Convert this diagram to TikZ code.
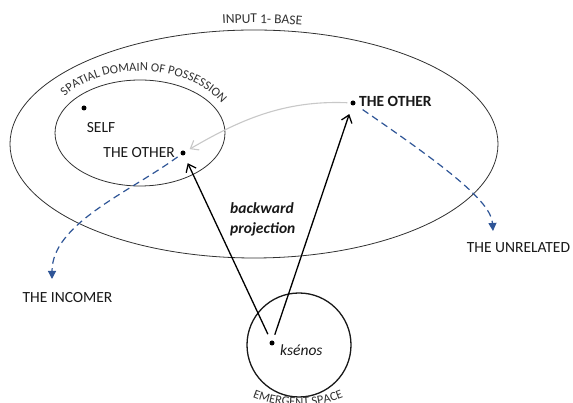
\documentclass[tikz,border=0pt]{standalone}
\usepackage{fontspec}
\setmainfont{Carlito}
\usetikzlibrary{arrows.meta,decorations.text}
\definecolor{blueline}{RGB}{47,85,151}
\definecolor{greyline}{RGB}{200,200,200}
\definecolor{inkc}{RGB}{25,25,25}
\definecolor{thinc}{RGB}{50,50,50}
\begin{document}
\begin{tikzpicture}[x=1pt,y=1pt,
  dotn/.style={circle,fill=black,inner sep=0pt,minimum size=5pt},
  lbl/.style={inner sep=0pt,font=\fontsize{15.5}{18}\selectfont,text=inkc},
  blackarr/.style={line width=1.3pt,-{Straight Barb[length=7pt,width=11pt,line width=1.3pt]}},
  greyarr/.style={draw=greyline,line width=1.1pt,-{Straight Barb[length=7pt,width=11pt]}},
  bluearr/.style={draw=blueline,line width=1.2pt,dash pattern=on 7pt off 4.5pt,-{Triangle[length=8pt,width=8pt]}},
  curvetext/.style={decorate,decoration={text along path,text align=center,#1}}
]
\clip (0,0) rectangle (573,403);
\fill[white] (0,0) rectangle (573,403);

% domains
\draw[draw=thinc,line width=0.8pt] (254,259) ellipse[x radius=244,y radius=114];
\draw[draw=thinc,line width=0.8pt] (140,270) ellipse[x radius=85,y radius=53];
\draw[draw=inkc,line width=1.3pt] (299,58) circle[radius=52];

% curved titles
\path[curvetext={text={|\color{thinc}\fontsize{13.5}{16}\selectfont|INPUT 1- BASE}}]
  (254,259) ++(108:250 and 121) arc[start angle=108,end angle=68,x radius=250,y radius=121];
\path[curvetext={text={|\color{thinc}\fontsize{12.5}{15}\selectfont|SPATIAL DOMAIN OF POSSESSION}}]
  (140,270) ++(150:93 and 62) arc[start angle=150,end angle=22,x radius=93,y radius=62];
\path[curvetext={text={|\color{thinc}\fontsize{12.5}{15}\selectfont|EMERGENT SPACE}}]
  (298,121) ++(240:124) arc[start angle=240,end angle=300,radius=124];

% dots
\node[dotn] (self) at (84,295) {};
\node[dotn] (iother) at (183,250) {};
\node[dotn] (rother) at (353,300) {};
\node[dotn] (kdot) at (272,60) {};

% labels
\node[lbl] (selfl) at (101,275) {SELF};
\node[lbl,anchor=east] (iotherl) at (175,250) {THE OTHER};
\node[lbl,anchor=west,font=\fontsize{15.5}{18}\selectfont\bfseries] (rotherl) at (359,302) {THE OTHER};
\node[lbl,anchor=west,font=\fontsize{15.5}{18}\selectfont\itshape] (kl) at (280,53) {ksénos};
\node[lbl,anchor=west,align=left,font=\fontsize{15.5}{20}\selectfont\bfseries\itshape] (bp) at (230,184) {backward\\projection};
\node[lbl] (incomer) at (67.5,105) {THE INCOMER};
\node[lbl] (unrel) at (518.5,155) {THE UNRELATED};

\coordinate (incend) at (52,124);
\coordinate (unrend) at (493,172);

% connectors
\draw[blackarr,shorten <=7pt,shorten >=8.5pt] (kdot) -- (iother);
\draw[blackarr,shorten <=6pt,shorten >=9pt] (kdot) -- (rother);
\draw[greyarr,shorten <=3pt,shorten >=5pt] (rother) .. controls +(-70,3) and +(55,32) .. (iother);
\draw[bluearr,shorten <=4pt] (iother) .. controls +(-55,-40) and +(0,55) .. (incend);
\draw[bluearr,shorten <=9pt] (rother) .. controls +(90,-62) and +(-2,30) .. (unrend);
\end{tikzpicture}
\end{document}
